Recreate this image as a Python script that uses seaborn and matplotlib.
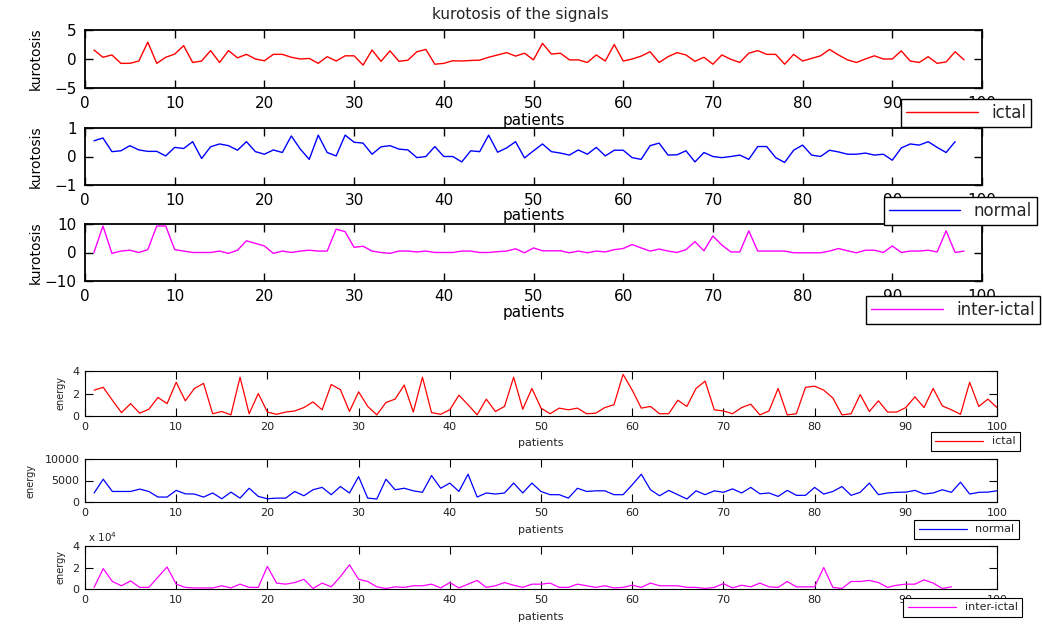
import matplotlib
matplotlib.use("Agg")
import matplotlib.pyplot as plt
import seaborn as sns
import numpy as np

# ---------------- data ----------------
kurt_ictal = [1.55, 0.3, 0.7, -0.75, -0.75, -0.35, 2.9, -0.75, 0.3, 0.85,
              2.3, -0.6, -0.35, 1.45, -0.6, 1.45, 0.2, 0.8, 0.0, -0.3,
              0.8, 0.8, 0.3, 0.0, 0.1, -0.75, 0.4, -0.35, 0.55, 0.55,
              -1.05, 1.55, -0.4, 1.4, -0.4, -0.2, 1.25, 1.65, -0.9, -0.75,
              -0.3, -0.35, -0.25, -0.2, 0.3, 0.7, 1.1, 0.5, 1.0, -0.15,
              2.7, 0.85, 1.0, -0.15, -0.15, -0.6, 0.7, -0.35, 2.5, -0.35,
              0.0, 0.5, 1.25, -0.6, 0.4, 1.1, 0.7, -0.4, 0.3, -0.9,
              0.7, -0.05, -0.6, 1.0, 1.45, 0.8, 0.8, -0.9, 0.8, -0.35,
              0.1, 0.55, 1.65, 0.7, -0.15, -0.6, 0.0, 0.55, 0.0, 0.0,
              1.4, -0.35, -0.6, 0.4, -0.75, -0.5, 1.25, -0.15]
kurt_normal = [0.55, 0.65, 0.17, 0.2, 0.38, 0.23, 0.18, 0.18, 0.02, 0.32,
               0.28, 0.52, -0.07, 0.34, 0.44, 0.38, 0.22, 0.52, 0.17, 0.08,
               0.23, 0.14, 0.72, 0.26, -0.1, 0.75, 0.14, 0.02, 0.75, 0.5,
               0.47, 0.08, 0.34, 0.38, 0.26, 0.23, -0.04, 0.0, 0.35, 0.0,
               0.0, -0.19, 0.2, 0.17, 0.75, 0.15, 0.3, 0.52, -0.05, 0.2,
               0.44, 0.17, 0.12, 0.05, 0.23, 0.08, 0.32, 0.02, 0.22, 0.22,
               -0.04, -0.1, 0.38, 0.47, 0.05, 0.06, 0.2, -0.19, 0.14, 0.0,
               -0.04, 0.0, 0.05, -0.1, 0.35, 0.35, -0.04, -0.21, 0.22, 0.4,
               0.05, 0.0, 0.22, 0.16, 0.08, 0.08, 0.12, 0.05, 0.08, -0.13,
               0.3, 0.44, 0.4, 0.52, 0.32, 0.14, 0.52]
kurt_inter = [0.0, 9.3, -0.3, 0.5, 0.8, 0.0, 1.0, 9.3, 9.3, 1.0,
              0.5, 0.0, 0.0, 0.0, 0.5, -0.3, 0.8, 4.1, 3.2, 2.3,
              -0.3, 0.5, 0.0, 0.5, 0.8, 0.5, 0.5, 8.2, 7.3, 1.8,
              2.2, 0.5, 0.0, -0.3, 0.5, 0.5, 0.2, 0.5, 0.0, 0.0,
              0.0, 0.5, 0.5, 0.0, 0.0, 0.3, 0.5, 1.3, -0.1, 1.6,
              0.6, 0.6, 0.6, -0.1, 0.5, -0.1, 0.5, 0.2, 1.0, 1.4,
              2.8, 1.6, 0.5, 1.2, 0.5, 0.0, 1.0, 3.8, 0.6, 5.8,
              2.6, 0.2, 0.2, 7.6, 0.5, 0.5, 0.5, 0.5, -0.1, -0.1,
              -0.1, -0.1, 0.5, 1.4, 0.6, -0.1, 0.8, 0.8, 0.0, 2.3,
              0.0, 0.5, 0.5, 0.8, 0.2, 7.6, 0.0, 0.5]

# energy of ictal and inter-ictal signals in units of 10^4
energy_ictal_e4 = [2.3, 2.55, 1.4, 0.3, 1.1, 0.25, 0.6, 1.65, 1.1, 3.0,
                   1.35, 2.45, 2.9, 0.2, 0.4, 0.1, 3.45, 0.2, 2.0, 0.35,
                   0.15, 0.35, 0.45, 0.75, 1.25, 0.55, 2.8, 2.35, 0.4, 2.15,
                   0.85, 0.1, 1.2, 1.5, 2.75, 0.35, 3.45, 0.3, 0.15, 0.55,
                   1.85, 1.0, 0.1, 1.5, 0.4, 0.85, 3.45, 0.6, 2.45, 0.7,
                   0.2, 0.7, 0.55, 0.7, 0.2, 0.25, 0.75, 1.0, 3.7, 2.3,
                   0.7, 0.85, 0.2, 0.2, 1.4, 0.85, 2.45, 3.1, 0.55, 0.45,
                   0.2, 0.75, 1.05, 0.1, 0.45, 2.45, 0.1, 0.2, 2.55, 2.65,
                   2.3, 1.6, 0.1, 0.2, 1.9, 0.4, 1.35, 0.35, 0.35, 0.75,
                   1.7, 0.75, 2.45, 0.9, 0.55, 0.15, 3.0, 0.85, 1.5, 0.75]
energy_normal = [2100, 5300, 2450, 2450, 2450, 3000, 2450, 1150, 1150, 2700,
                 1900, 1850, 1150, 2100, 750, 2300, 900, 3200, 1300, 750,
                 900, 900, 2450, 1450, 2850, 3400, 1700, 3600, 2100, 5900,
                 900, 700, 5300, 2850, 3200, 2600, 2250, 6150, 3200, 4400,
                 2450, 6450, 1150, 2100, 1850, 2100, 4400, 2100, 4400, 2450,
                 1700, 1700, 900, 3200, 2450, 2600, 2600, 1700, 1700, 4000,
                 6450, 2850, 1450, 2700, 1700, 700, 2600, 1700, 2600, 2250,
                 3050, 2100, 3400, 1900, 2100, 1300, 2700, 1550, 1550, 3400,
                 1850, 2450, 3600, 1550, 2250, 4400, 1700, 2100, 2250, 2300,
                 2700, 1850, 2100, 2850, 2250, 4600, 1850, 2250, 2300, 2600]
energy_inter_e4 = [0.15, 1.9, 0.7, 0.3, 0.75, 0.15, 0.15, 1.1, 2.05, 0.45,
                   0.15, 0.1, 0.1, 0.1, 0.3, 0.1, 0.45, 0.15, 0.15, 2.1,
                   0.55, 0.45, 0.6, 0.9, 0.05, 0.55, 0.2, 1.15, 2.25, 0.9,
                   0.7, 0.2, 0.05, 0.2, 0.15, 0.3, 0.3, 0.45, 0.1, 0.6,
                   0.1, 0.45, 0.8, 0.15, 0.3, 0.6, 0.35, 0.15, 0.45, 0.45,
                   0.55, 0.15, 0.15, 0.45, 0.3, 0.15, 0.3, 0.1, 0.15, 0.35,
                   0.15, 0.55, 0.3, 0.3, 0.3, 0.15, 0.15, 0.05, 0.15, 0.5,
                   0.1, 0.35, 0.2, 0.55, 0.2, 0.15, 0.7, 0.2, 0.2, 0.2,
                   2.0, 0.15, 0.05, 0.7, 0.7, 0.8, 0.6, 0.15, 0.35, 0.45,
                   0.45, 0.85, 0.55, 0.05, 0.2]

labels = ["ictal", "normal", "inter-ictal"]
colors = ["#ff0000", "#0000ff", "#ff00ff"]
x_ticks = list(range(0, 101, 10))

# ---------------- figure ----------------
W, H = 1042, 625
sns.set_style("ticks")
plt.rcParams['font.family'] = ['DejaVu Sans']
fig = plt.figure(figsize=(W / 100, H / 100), dpi=100)


def add_ax(l, t, r, b):
    return fig.add_axes([l / W, 1 - b / H, (r - l) / W, (b - t) / H])


def px_to_fig(x, y):
    return x / W, 1 - y / H


panels = [
    # data, color idx, ylabel, box(l,t,r,b), ylim, yticks, style, legend (right, top), xlabel top, ylabel right
    (kurt_ictal, 0, "kurotosis", (85, 30, 982, 88), (-5, 5), [-5, 0, 5], "big", (1031, 99), 113, 43),
    (kurt_normal, 1, "kurotosis", (85, 128, 982, 185), (-1, 1), [-1, 0, 1], "big", (1037, 197), 208, 43),
    (kurt_inter, 2, "kurotosis", (85, 224, 982, 281), (-10, 10), [-10, 0, 10], "big", (1040, 296), 305, 43),
    (energy_ictal_e4, 0, "energy", (85, 371, 997, 416), (0, 4), [0, 2, 4], "small", (1020, 432), 438, 65),
    (energy_normal, 1, "energy", (85, 459, 997, 502), (0, 10000), [0, 5000, 10000], "small", (1019, 520), 525, 35),
    (energy_inter_e4, 2, "energy", (85, 546, 997, 589), (0, 4), [0, 2, 4], "small", (1022, 598), 612, 65),
]

for vals, ci, ylab, box, ylim, yticks, style, leg, xl_top, yl_right in panels:
    ax = add_ax(*box)
    patients = np.arange(1, len(vals) + 1)
    big = style == "big"
    sns.lineplot(x=patients, y=vals, ax=ax, color=colors[ci],
                 lw=1.0 if big else 0.9, label=labels[ci], legend=False)
    ax.set_xlim(0, 100)
    ax.set_ylim(*ylim)
    ax.set_xticks(x_ticks)
    ax.set_yticks(yticks)
    fs = 11 if big else 8
    ax.tick_params(direction="in", top=True, right=True,
                   length=6, width=1.0 if big else 0.8,
                   labelsize=fs, pad=6 if big else 4,
                   colors="black", labelcolor="black" if big else "#222222")
    for s in ax.spines.values():
        s.set_linewidth(1.3 if big else 0.8)
        s.set_color("black")
        s.set_visible(True)
    ax.set_facecolor("white")
    # axis labels
    l, t, r, b = box
    ax.set_xlabel("patients", fontsize=fs, color="black" if big else "#222222")
    ax.xaxis.set_label_coords(0.5, (b - xl_top) / (b - t))
    ax.set_ylabel(ylab, fontsize=10 if big else 7, color="black" if big else "#222222")
    ax.yaxis.set_label_coords((yl_right - l) / (r - l), 0.5)
    # legend placed below the axes at the right, like the original
    handles = ax.get_lines()[:1]
    lx, ly = px_to_fig(*leg)
    lg = fig.legend(handles, [labels[ci]], loc="upper right", bbox_to_anchor=(lx, ly),
                    bbox_transform=fig.transFigure, frameon=True, fancybox=False,
                    edgecolor="black", framealpha=1, fontsize=12 if big else 8,
                    handlelength=4.3 if big else 4.3, handletextpad=0.8,
                    borderpad=0.3 if big else 0.4, borderaxespad=0)
    lg.get_frame().set_linewidth(1.0 if big else 0.8)

# title of the kurtosis figure
tx, ty = px_to_fig(520, 14)
fig.text(tx, ty, "kurotosis of the signals", ha="center", va="center", fontsize=11)
# scale factor of the inter-ictal energy panel
ox, oy = px_to_fig(88, 542)
fig.text(ox, oy, r"x 10$^4$", ha="left", va="baseline", fontsize=7.5, color="#222222")

fig.savefig("out.png", dpi=100, facecolor="white")
